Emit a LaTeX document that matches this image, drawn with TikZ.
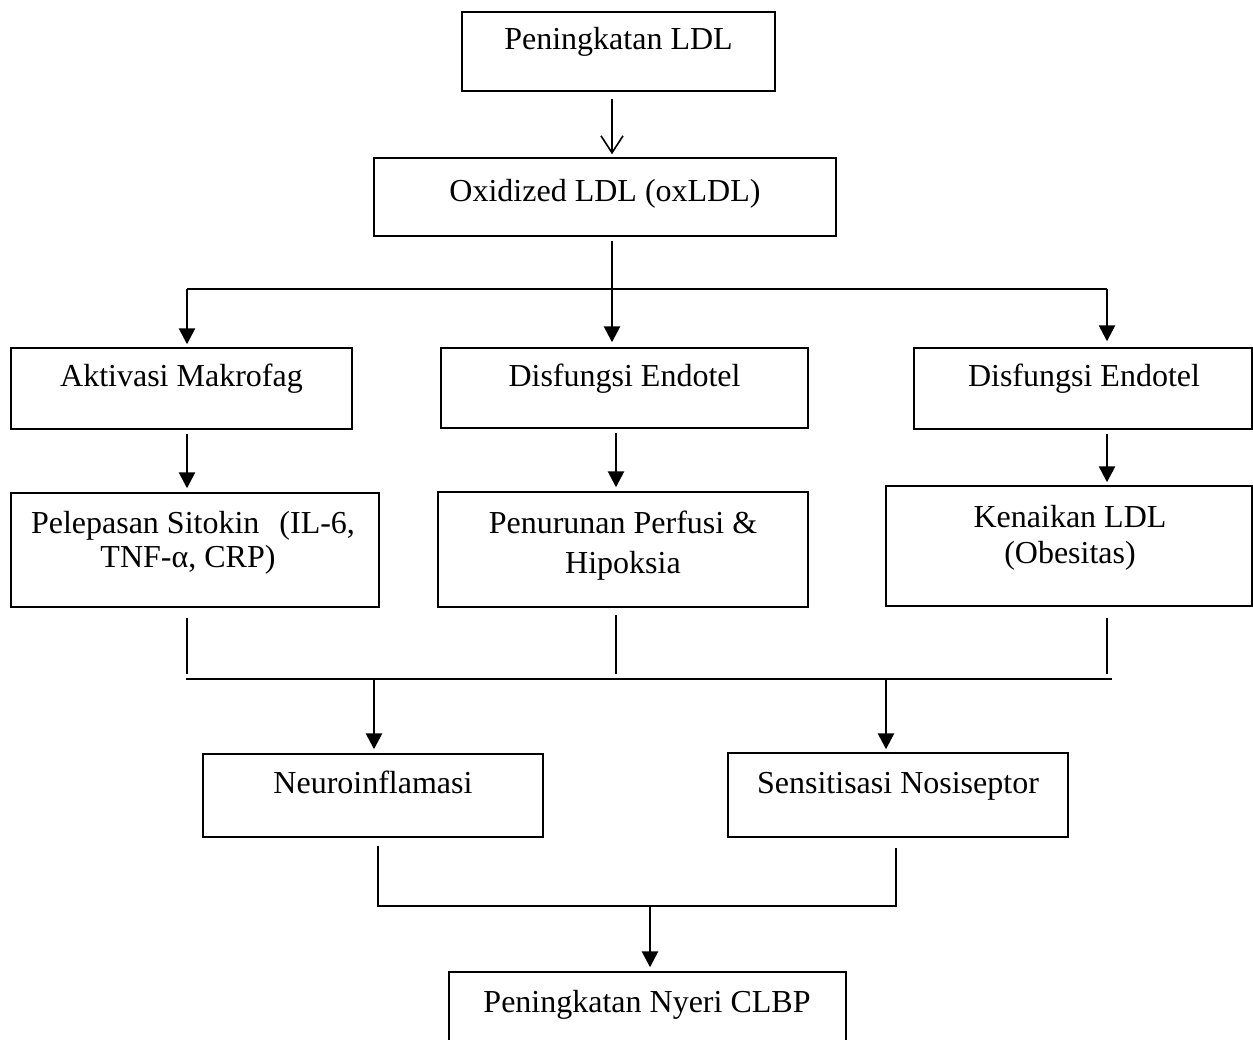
\documentclass[tikz,border=0pt]{standalone}
\usepackage{fontspec}
\setmainfont{Liberation Serif}
\usetikzlibrary{arrows.meta}
\begin{document}
\begin{tikzpicture}[x=1pt,y=-1pt,
  box/.style={draw, line width=1.4pt, inner sep=0pt},
  txt/.style={font=\fontsize{32}{34}\selectfont, inner sep=0pt, anchor=base},
  arr/.style={line width=2.6pt, -{Triangle[width=16pt,length=16pt]}},
  thinline/.style={line width=1.3pt},
  openarr/.style={line width=1.6pt, -{Straight Barb[length=17pt,width=22pt,line width=1.6pt]}}]
\useasboundingbox (0,0) rectangle (1253,1040);

% boxes
\node[box, minimum width=313pt, minimum height=79pt] (A) at (618.5,51.5) {};
\node[box, minimum width=462pt, minimum height=78pt] (B) at (605,197) {};
\node[box, minimum width=341pt, minimum height=81pt] (C1) at (181.5,388.5) {};
\node[box, minimum width=367pt, minimum height=80pt] (C2) at (624.5,388) {};
\node[box, minimum width=338pt, minimum height=81pt] (C3) at (1083,388.5) {};
\node[box, minimum width=368pt, minimum height=114pt] (D1) at (195,550) {};
\node[box, minimum width=370pt, minimum height=115pt] (D2) at (623,549.5) {};
\node[box, minimum width=366pt, minimum height=120pt] (D3) at (1069,546) {};
\node[box, minimum width=340pt, minimum height=83pt] (E1) at (373,795.5) {};
\node[box, minimum width=340pt, minimum height=84pt] (E2) at (898,795) {};
\node[box, minimum width=397pt, minimum height=78pt] (F) at (647.5,1011) {};

% texts
\node[txt] (tA) at (618.5,50) {Peningkatan LDL};
\node[txt] (tB) at (605,202) {Oxidized LDL (oxLDL)};
\node[txt] (tC1) at (181.5,387) {Aktivasi Makrofag};
\node[txt] (tC2) at (624.5,387) {Disfungsi Endotel};
\node[txt] (tC3) at (1084,387) {Disfungsi Endotel};
\node[txt] (tD1a) at (193,533) {Pelepasan Sitokin\hspace{20pt}(IL-6,};
\node[txt] (tD1b) at (188,567) {TNF-α, CRP)};
\node[txt] (tD2a) at (623,533) {Penurunan Perfusi \&};
\node[txt] (tD2b) at (623,573) {Hipoksia};
\node[txt] (tD3a) at (1070,527) {Kenaikan LDL};
\node[txt] (tD3b) at (1070,563) {(Obesitas)};
\node[txt] (tE1) at (373,793) {Neuroinflamasi};
\node[txt] (tE2) at (898,793) {Sensitisasi Nosiseptor};
\node[txt] (tF) at (647,1012) {Peningkatan Nyeri CLBP};

% junction coordinates
\coordinate (hL) at (187,289);
\coordinate (hR) at (1107,289);
\coordinate (v1) at (187,674);
\coordinate (v2) at (616,674);
\coordinate (v3) at (1107,674);
\coordinate (mL) at (186,679);
\coordinate (mR) at (1112,679);
\coordinate (m1) at (374,679);
\coordinate (m2) at (886,679);
\coordinate (bL) at (378,906);
\coordinate (bR) at (896,906);
\coordinate (bM) at (650,906);

% connectors
\draw[openarr] ([xshift=-6.5pt,yshift=-7pt]A.south) -- ([xshift=7pt,yshift=3pt]B.north);
\draw[thinline] (hL) -- (hR);
\draw[arr] ([xshift=7pt,yshift=-4pt]B.south) -- ([xshift=-12.5pt,yshift=5pt]C2.north);
\draw[arr] (hL) -- ([xshift=5.5pt,yshift=3pt]C1.north);
\draw[arr] (hR) -- ([xshift=24pt,yshift=6pt]C3.north);

\draw[arr] ([xshift=5.5pt,yshift=-4pt]C1.south) -- ([xshift=-8pt,yshift=4pt]D1.north);
\draw[arr] ([xshift=-8.5pt,yshift=-4pt]C2.south) -- ([xshift=-7pt,yshift=4pt]D2.north);
\draw[arr] ([xshift=24pt,yshift=-4pt]C3.south) -- ([xshift=38pt,yshift=3pt]D3.north);

\draw[thinline] ([xshift=-8pt,yshift=-10pt]D1.south) -- (v1);
\draw[thinline] ([xshift=-7pt,yshift=-7pt]D2.south) -- (v2);
\draw[thinline] ([xshift=38pt,yshift=-11pt]D3.south) -- (v3);
\draw[thinline] (mL) -- (mR);
\draw[arr] (m1) -- ([xshift=1pt,yshift=4pt]E1.north);
\draw[arr] (m2) -- ([xshift=-12pt,yshift=3pt]E2.north);

\draw[thinline] ([xshift=5pt,yshift=-8pt]E1.south) -- (bL) -- (bR) -- ([xshift=-2pt,yshift=-10pt]E2.south);
\draw[arr] (bM) -- ([xshift=2.5pt,yshift=4pt]F.north);
\end{tikzpicture}
\end{document}
